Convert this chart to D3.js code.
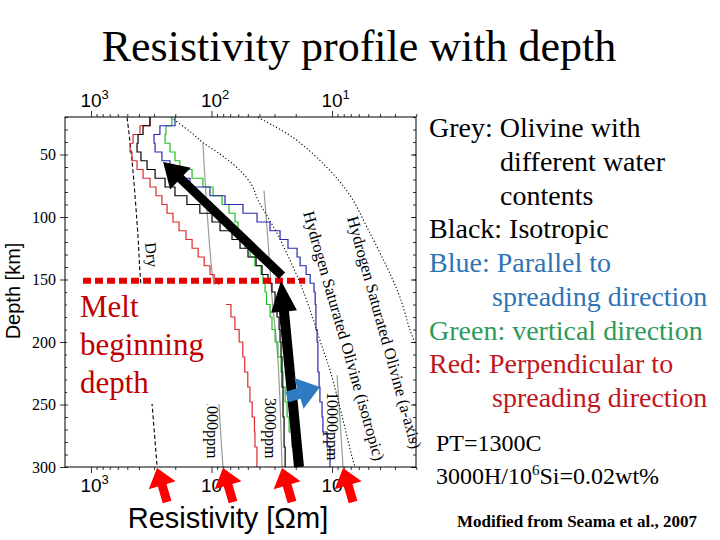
<!DOCTYPE html>
<html><head><meta charset="utf-8">
<script src="https://cdn.jsdelivr.net/npm/d3@7"></script>
<style>body{margin:0;background:#fff} svg{display:block}</style>
</head><body>
<svg id="chart" width="720" height="540"></svg>
<script>
// ---------- data ----------
const xDomain = [1644, 2.01];          // resistivity [Ohm m], reversed log axis
const depthDomain = [20, 300];         // depth [km]
const xMajorTicks = [1000, 100, 10];
const xMinorTicks = [900,800,700,600,500,400,300,200,90,80,70,60,50,40,30,20,9,8,7,6,5,4,3,2];
const depthMajorTicks = [50, 100, 150, 200, 250, 300];
const depthMinorTicks = d3.range(20, 301, 10);

// layered model: tops of layers [km]
const layerTops = [20,27,34,41,48,55,62,69,76,83,90,97,104,111,118,125,132,139,146,153,160,170,180,190,200,212,224,236,248,260,272,284];
const modelBottom = 300;
const isotropic    = [324,370,407,415,385,343,294,243,201,160,125,99,85,67.6,58,49.8,42.7,38.1,34,31.5,29.7,28.6,27.5,27,26.5,26,26,25.5,25.5,25,25,24.5];
const parallel     = [201,268,300,294,258,221,190,151,103,77.3,54.8,41.9,32.7,27,23.2,19.5,18.4,16.4,15.2,14.1,13.8,13.6,13.6,13.3,13.1,13.1,12.8,12.6,12.1,11.9,11.0,10.4];
const verticalDir  = [213,239,243,221,201,183,145,118,97.2,81.8,71.6,63.8,60.3,56.9,52.7,47.9,43.6,38.8,37.4,36,35,32.7,31.5,29.7,28.1,26.5,25.5,24.5,23.6,22.7,21.5,20.3];
const perpendicular= [324,392,448,475,457,415,370,324,289,258,234,209,186,163,145,129,115,103,95,87,79,69,64,59,55,53,50,48,46,44,43.6,42];

// olivine reference curves
const dryDepth   = [20.4,54.8,116.3,145,197,249,300];
const dryRes     = [502,457,407,392,350,312,283];
const w1000Depth = [40.4,94.7,144.2,158.6,249,300];
const w1000Res   = [118,109,99,93.5,86.7,80.3];
const w3000Depth = [78.8,118.7,164.2,214.5,300];
const w3000Res   = [36.7,34,31.5,28.1,26];
const w10000Depth= [226.5,262.5,300];
const w10000Res  = [9.09,8.58,8.1];
const satIsoDepth= [20.4,31.6,40.4,50.8,62.8,74.8,86.7,100.3,113.1,134.7,153,174.6,198.6,222.5,262.5,292,300];
const satIsoRes  = [217,151,118,81.8,58,46.1,41.1,34,28.6,22.3,18.4,15.2,12.6,10.4,8.1,6.82,6.44];
const satAxDepth = [20.4,36.4,60.4,82.7,108.3,140.3,164.2,190.6,202.6];
const satAxRes   = [41.1,21.1,11.0,7.09,5.12,3.50,2.73,2.25,2.01];

// annotations (data coordinates: [resistivity, depth])
const meltDepth = 151;
const meltLineRes = [1165, 16.7];
const trendArrows = [
  {from: [26, 147], to: [252, 56]},
  {from: [18.8, 300], to: [26.5, 151]}
];
const blueArrow = {from: [23.6, 244], to: [12.6, 236]};

const legendLines = [
  {text: "Grey: Olivine with", x: 429, color: "#000"},
  {text: "different water", x: 500, color: "#000"},
  {text: "contents", x: 500, color: "#000"},
  {text: "Black: Isotropic", x: 429, color: "#000"},
  {text: "Blue: Parallel to", x: 429, color: "#2e74b5"},
  {text: "spreading direction", x: 492, color: "#2e74b5"},
  {text: "Green: vertical direction", x: 429, color: "#2e9a58"},
  {text: "Red: Perpendicular to", x: 429, color: "#c0161d"},
  {text: "spreading direction", x: 492, color: "#c0161d"}
];

// ---------- drawing ----------
const serif = "'Liberation Serif','Times New Roman',serif";
const sans = "'Liberation Sans',Arial,sans-serif";
const svg = d3.select("#chart");
const P = {left: 65, right: 416, top: 117, bottom: 467};
const x = d3.scaleLog().domain(xDomain).range([P.left, P.right]);
const y = d3.scaleLinear().domain(depthDomain).range([P.top, P.bottom]);

svg.append("rect").attr("width",720).attr("height",540).attr("fill","#fff");

// title
svg.append("text").attr("x",359).attr("y",61).attr("text-anchor","middle")
  .style("font-family",serif).style("font-size","44px").text("Resistivity profile with depth");

// clip
svg.append("defs").append("clipPath").attr("id","clip").append("rect")
  .attr("x",P.left).attr("y",P.top).attr("width",P.right-P.left).attr("height",P.bottom-P.top);

// axes ticks
function ticks(axis, tr){
  const g = svg.append("g").attr("transform",tr).call(axis);
  g.select(".domain").remove();
  g.selectAll("line").attr("stroke","#000").attr("stroke-width",0.8);
  return g;
}
ticks(d3.axisTop(x).tickValues(xMajorTicks).tickSize(6).tickFormat(""), `translate(0,${P.top})`);
ticks(d3.axisTop(x).tickValues(xMinorTicks).tickSize(3).tickFormat(""), `translate(0,${P.top})`);
ticks(d3.axisBottom(x).tickValues(xMajorTicks).tickSize(6).tickFormat(""), `translate(0,${P.bottom})`);
ticks(d3.axisBottom(x).tickValues(xMinorTicks).tickSize(3).tickFormat(""), `translate(0,${P.bottom})`);
const gl = ticks(d3.axisLeft(y).tickValues(depthMajorTicks).tickSize(5).tickPadding(4).tickFormat(d3.format("d")), `translate(${P.left},0)`);
gl.attr("font-family",serif).attr("font-size",16);
gl.selectAll("text").attr("fill","#000");
ticks(d3.axisLeft(y).tickValues(depthMinorTicks).tickSize(-3).tickFormat(""), `translate(${P.left},0)`);
ticks(d3.axisRight(y).tickValues(depthMinorTicks).tickSize(-3).tickFormat(""), `translate(${P.right},0)`);
ticks(d3.axisRight(y).tickValues(depthMajorTicks).tickSize(-5).tickFormat(""), `translate(${P.right},0)`);

// x tick labels (10^n)
function powLabel(v, yy){
  const t = svg.append("text").attr("x", x(v) - 10.6).attr("y", yy)
    .style("font-family",sans).style("font-size","19px").attr("fill","#000");
  t.append("tspan").text("10");
  t.append("tspan").attr("dy",-8).style("font-size","13px").text(Math.round(Math.log10(v)));
}
xMajorTicks.forEach(v => powLabel(v, 107));
xMajorTicks.forEach(v => powLabel(v, 492));

// axis titles
svg.append("text").attr("transform","translate(20,291) rotate(-90)").attr("text-anchor","middle")
  .style("font-family",sans).style("font-size","20px").text("Depth [km]");
svg.append("text").attr("x",228).attr("y",528).attr("text-anchor","middle")
  .style("font-family",sans).style("font-size","29px").text("Resistivity [Ωm]");

// curves
const plotG = svg.append("g").attr("clip-path","url(#clip)");
const smooth = d3.line().x(d=>x(d[0])).y(d=>y(d[1])).curve(d3.curveCatmullRom);
function ref(res, dep, stroke, dash, w){
  plotG.append("path").attr("d",smooth(d3.zip(res,dep))).attr("fill","none")
    .attr("stroke",stroke).attr("stroke-width",w).attr("stroke-dasharray",dash);
}
ref(w1000Res, w1000Depth, "#9a9a9a", null, 1.2);
ref(w3000Res, w3000Depth, "#9a9a9a", null, 1.2);
ref(w10000Res, w10000Depth, "#9a9a9a", null, 1.2);
ref(dryRes, dryDepth, "#000", "4,2.5", 1.1);
ref(satIsoRes, satIsoDepth, "#000", "1.2,2.2", 1.1);
ref(satAxRes, satAxDepth, "#000", "1.2,2.2", 1.1);

const stepLine = d3.line().x(d=>x(d[0])).y(d=>y(d[1])).curve(d3.curveStepBefore);
function stepPts(vals){ const p = layerTops.map((d,i)=>[vals[i], d]); p.push([vals[vals.length-1], modelBottom]); return p; }
[[perpendicular,"#dc2b2b"],[verticalDir,"#1fc01f"],[parallel,"#2727b0"],[isotropic,"#000"]].forEach(([v,c])=>{
  plotG.append("path").attr("d",stepLine(stepPts(v))).attr("fill","none").attr("stroke",c).attr("stroke-width",1.2);
});

// rotated curve labels
function rlabel(txt, xx, yy, ang, size){
  svg.append("text").attr("transform",`translate(${xx},${yy}) rotate(${ang})`)
    .style("font-family",serif).style("font-size",size+"px").attr("fill","#000").text(txt);
}
rlabel("Dry", 145, 243, 84, 16);
rlabel("1000ppm", 207, 398, 90, 16);
rlabel("3000ppm", 265, 398, 90, 16);
rlabel("10000ppm", 327, 392, 90, 16);
rlabel("Hydrogen Saturated Olivine (isotropic)", 303, 213, 74, 16.5);
rlabel("Hydrogen Saturated Olivine (a-axis)", 347, 218, 74.5, 16.5);

// white box behind the melt text
svg.append("rect").attr("x",67).attr("y",285).attr("width",159).attr("height",119).attr("fill","#fff");

// melt line
svg.append("line").attr("x1",x(meltLineRes[0])).attr("x2",x(meltLineRes[1]))
  .attr("y1",y(meltDepth)).attr("y2",y(meltDepth))
  .attr("stroke","#e60000").attr("stroke-width",6).attr("stroke-dasharray","8,4");
["Melt","beginning","depth"].forEach((t,i)=>{
  svg.append("text").attr("x",80).attr("y",317+i*38).style("font-family",serif)
    .style("font-size","31px").attr("fill","#c00000").text(t);
});

// arrows
function arrow(p0, p1, sw, hl, hw, color){
  const dx = p1[0]-p0[0], dy = p1[1]-p0[1], L = Math.hypot(dx,dy);
  const ux = dx/L, uy = dy/L, nx = -uy, ny = ux;
  const bx = p1[0]-ux*hl, by = p1[1]-uy*hl;
  const pts = [
    [p0[0]+nx*sw/2, p0[1]+ny*sw/2],[bx+nx*sw/2, by+ny*sw/2],[bx+nx*hw/2, by+ny*hw/2],
    p1,[bx-nx*hw/2, by-ny*hw/2],[bx-nx*sw/2, by-ny*sw/2],[p0[0]-nx*sw/2, p0[1]-ny*sw/2]];
  svg.append("polygon").attr("points",pts.map(p=>p.join(",")).join(" ")).attr("fill",color);
}
const px = d => [x(d[0]), y(d[1])];
arrow(px(trendArrows[0].from), px(trendArrows[0].to), 9, 24, 30, "#000");
arrow(px(trendArrows[1].from), px(trendArrows[1].to), 10, 31, 26, "#000");
arrow(px(blueArrow.from), px(blueArrow.to), 11, 22, 32, "#2e7bc4");

// red arrows pointing at the bottom ends of the reference curves
[dryRes, w1000Res, w3000Res, w10000Res].forEach(r=>{
  const tip = [x(r[r.length-1]), P.bottom+1];
  arrow([tip[0]+10, tip[1]+34], tip, 9, 18, 28, "#ff0000");
});

// legend text
legendLines.forEach((l,i)=>{
  svg.append("text").attr("x",l.x).attr("y",137+i*33.75).style("font-family",serif)
    .style("font-size","28px").attr("fill",l.color).text(l.text);
});
svg.append("text").attr("x",436).attr("y",451).style("font-family",serif).style("font-size","24px").text("PT=1300C");
const t2 = svg.append("text").attr("x",436).attr("y",484).style("font-family",serif).style("font-size","24px");
t2.append("tspan").text("3000H/10");
t2.append("tspan").attr("dy",-9).style("font-size","15px").text("6");
t2.append("tspan").attr("dy",9).text("Si=0.02wt%");
svg.append("text").attr("x",457).attr("y",527).style("font-family",serif).style("font-size","17px")
  .style("font-weight","bold").text("Modified from Seama et al., 2007");

// frame
svg.append("rect").attr("x",P.left).attr("y",P.top).attr("width",P.right-P.left).attr("height",P.bottom-P.top)
  .attr("fill","none").attr("stroke","#000").attr("stroke-width",1);
</script>
</body></html>
